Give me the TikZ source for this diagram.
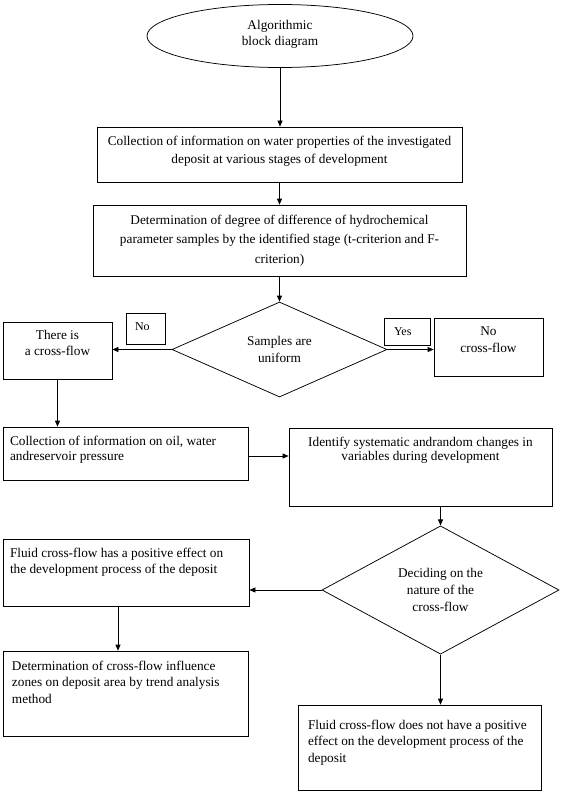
\documentclass[tikz,border=0pt]{standalone}
\usepackage{fontspec}
\setmainfont{Liberation Serif}
\usetikzlibrary{shapes.geometric,arrows.meta,calc}
% #1 width, #2 height, #3 top gap, #4 baselineskip, #5 alignment, #6 text
\newcommand{\tbx}[6]{\parbox[c][#2pt][t]{#1pt}{\fontsize{13.3}{#4}\selectfont\vspace*{#3pt}#5#6}}
\begin{document}
\begin{tikzpicture}[x=1pt,y=-1pt,
  box/.style={draw, rectangle, inner sep=0pt, line width=0.75pt},
  dia/.style={draw, diamond, inner sep=0pt, line width=0.75pt, align=center,
    font=\fontsize{13.3}{17}\selectfont},
  arr/.style={line width=0.75pt, -{Triangle[length=6pt,width=5pt]}},
  ]
\fill[white] (0,0) rectangle (562,797);
\useasboundingbox (0,0) rectangle (562,797);

\node[draw, ellipse, minimum width=266pt, minimum height=63pt, inner sep=0pt,
  line width=0.75pt] (ell) at (280,36)
  {\parbox[c][40pt][t]{120pt}{\fontsize{13.3}{16.5pt}\selectfont\vspace*{4pt}\centering Algorithmic\\block diagram}};

\node[box] (b1) at (279.5,154.5) {\tbx{365}{55}{9}{18pt}{\centering}{Collection of information on water properties of the investigated\\deposit at various stages of development}};

\node[box] (b2) at (279.5,240.5) {\tbx{373}{71}{10}{19.5pt}{\centering}{Determination of degree of difference of hydrochemical\\parameter samples by the identified stage (t-criterion and F-\\criterion)}};

\node[dia, minimum width=215pt, minimum height=95pt] (d1) at (279.5,349.5) {Samples are\\uniform};

\node[box] (tis) at (57.5,350.5) {\tbx{109}{57}{8}{16pt}{\centering}{There is\\a cross-flow}};

\node[box] (lno) at (145.5,328.5) {\parbox[c][31pt][t]{39pt}{\fontsize{12}{14}\selectfont\vspace*{10pt}\hspace*{9pt}No}};

\node[box] (lyes) at (407,331.5) {\parbox[c][27pt][t]{46pt}{\fontsize{12}{14}\selectfont\vspace*{10pt}\hspace*{10pt}Yes}};

\node[box] (ncf) at (488.5,347) {\tbx{109}{58}{9}{17pt}{\centering}{No\\cross-flow}};

\node[box] (oil) at (125.5,453.5) {\tbx{245}{53}{9}{15pt}{\raggedright\leftskip=7pt}{Collection of information on oil, water\\andreservoir pressure}};

\node[box] (ident) at (420.5,467) {\tbx{263}{78}{9}{14.5pt}{\centering}{Identify systematic andrandom changes in\\variables during development}};

\node[dia, minimum width=237pt, minimum height=124pt] (d2) at (440.5,590) {Deciding on the\\nature of the\\cross-flow};

\node[box] (pos) at (126,572.5) {\tbx{246}{67}{9}{16pt}{\raggedright\leftskip=7pt}{Fluid cross-flow has a positive effect on\\the development process of the deposit}};

\node[box] (det) at (125.5,693.5) {\tbx{245}{85}{10}{16.5pt}{\raggedright\leftskip=9pt}{Determination of cross-flow influence\\zones on deposit area by trend analysis\\method}};

\node[box] (notpos) at (419.5,747.5) {\tbx{243}{85}{15}{16.5pt}{\raggedright\leftskip=10pt}{Fluid cross-flow does not have a positive\\effect on the development process of the\\deposit}};

% connectors
\draw[arr] (ell.south) -- (ell.south |- b1.north);
\draw[arr] (b1.south) -- (b2.north);
\draw[arr] (b2.south) -- (d1.north);
\draw[arr] (d1.west) -- (d1.west -| tis.east);
\draw[arr] (d1.east) -- (d1.east -| ncf.west);
\draw[arr] (tis.south) -- (tis.south |- oil.north);
\coordinate (oilout) at ($(oil.east)+(0,2.5)$);
\draw[arr] (oilout) -- (oilout -| ident.west);
\draw[arr] (d2.north |- ident.south) -- (d2.north);
\draw[arr] (d2.west) -- (d2.west -| pos.east);
\coordinate (posout) at ($(pos.south)+(-8,0)$);
\draw[arr] (posout) -- (posout |- det.north);
\draw[arr] (d2.south) -- (d2.south |- notpos.north);
\end{tikzpicture}
\end{document}
